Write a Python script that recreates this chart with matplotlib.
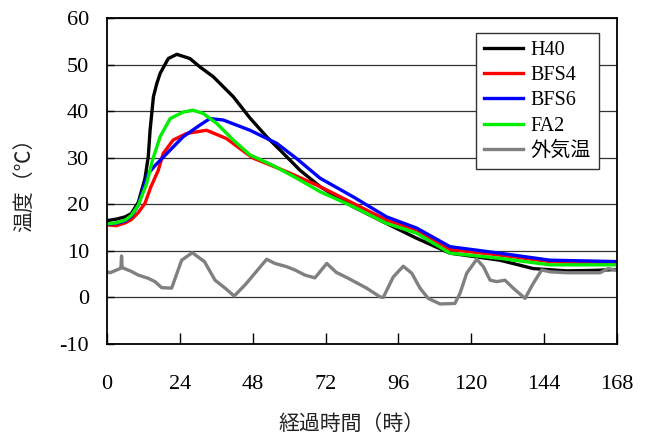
import matplotlib
matplotlib.use("Agg")
import matplotlib.pyplot as plt

plt.rcParams['font.family'] = ['Liberation Serif', 'Noto Sans CJK JP']
plt.rcParams['axes.unicode_minus'] = False

# Elapsed time (h) and temperature (°C) for each specimen
h40_t = [0, 3, 6, 8, 10.3, 12.5, 13.6, 14.2, 15.3, 16.4, 17.5, 20.2, 23, 27.3, 30.6, 35,
         41.6, 47, 52.6, 58, 63.6, 70.2, 81, 92, 102, 113, 129.4, 140.4, 151.4, 160, 168]
h40_v = [16.5, 16.8, 17.3, 18.0, 20.4, 25.5, 30.2, 35.9, 43.1, 45.9, 48.1, 51.3, 52.2, 51.3,
         49.5, 47.4, 43.1, 38.6, 34.5, 31.0, 27.3, 23.8, 19.5, 15.9, 12.7, 9.5, 8.0, 6.2, 5.7,
         5.8, 6.0]

bfs4_t = [0, 3, 6, 8, 10.3, 12.5, 14.5, 16.9, 18.5, 21.8, 26.2, 32.8, 39.4, 46, 48.2, 59.2,
          70.2, 81.1, 92.1, 102, 113, 129.4, 145.9, 168]
bfs4_v = [15.6, 15.4, 16.0, 16.7, 18.2, 20.2, 23.8, 27.3, 30.9, 33.8, 35.2, 35.9, 34.1, 30.9,
          29.9, 27.0, 23.8, 20.2, 16.6, 14.5, 10.3, 9.1, 7.7, 7.3]

bfs6_t = [0, 3, 6, 8, 10.3, 12.5, 13.6, 15.8, 19.7, 25.1, 30.6, 33.9, 38.3, 47.1, 55.9, 62.5,
          70.2, 81.1, 92.1, 102, 113, 129.4, 145.9, 168]
bfs6_v = [15.7, 15.9, 16.4, 17.4, 19.8, 24.5, 26.6, 28.3, 30.9, 34.5, 37.0, 38.4, 38.1, 35.9,
          33.1, 29.8, 25.6, 21.6, 17.3, 14.9, 10.9, 9.5, 8.0, 7.7]

fa2_t = [0, 3, 6, 8, 10.3, 13.1, 15, 17.5, 20.8, 25.1, 28.4, 31.7, 36.1, 41.6, 47.1, 54.8,
         62.5, 70.2, 81.1, 92.1, 102, 113, 129.4, 145.9, 168]
fa2_v = [15.8, 16.0, 16.6, 17.6, 19.8, 24.5, 29.5, 34.5, 38.4, 39.8, 40.2, 39.5, 37.4, 33.8,
         30.6, 28.3, 25.6, 22.7, 19.5, 15.9, 13.8, 9.5, 8.4, 7.0, 7.0]

air_t = [0, 1, 4.3, 4.6, 4.8, 5.0, 8, 10.3, 13.6, 15.8, 18, 21.3, 24.6, 28.1, 32.1, 35.6,
         38.9, 41.9, 45.5, 47.7, 52.6, 55.3, 59.2, 61.9, 65.2, 68.5, 72.4, 75.5, 79.5, 85.5,
         90, 91, 94.3, 97.6, 100.4, 103.1, 105.8, 109.7, 114.6, 116.3, 118.5, 121.8, 124,
         126.2, 128.4, 131.1, 133.8, 137.7, 140.4, 143.2, 145.9, 151.4, 162.4, 165.1, 168]
air_v = [5.5, 5.3, 6.2, 6.3, 8.9, 6.4, 5.6, 4.8, 4.1, 3.4, 2.1, 2.0, 8.0, 9.6, 7.7, 3.7,
         2.0, 0.3, 2.7, 4.4, 8.2, 7.3, 6.6, 5.9, 4.8, 4.2, 7.3, 5.4, 4.1, 2.0,
         0.1, 0.0, 4.4, 6.7, 5.2, 2.0, -0.2, -1.4, -1.3, 0.9, 5.2, 8.2, 6.6,
         3.7, 3.4, 3.7, 2.0, -0.2, 3.0, 5.9, 5.5, 5.3, 5.3, 6.2, 5.8]

series = [
    ("H40", h40_t, h40_v, "#000000"),
    ("BFS4", bfs4_t, bfs4_v, "#ff0000"),
    ("BFS6", bfs6_t, bfs6_v, "#0000ff"),
    ("FA2", fa2_t, fa2_v, "#00ee00"),
    ("外気温", air_t, air_v, "#808080"),
]

x_ticks = [0, 24, 48, 72, 96, 120, 144, 168]
y_ticks = [-10, 0, 10, 20, 30, 40, 50, 60]

fig = plt.figure(figsize=(6.46, 4.37), dpi=100)
ax = fig.add_axes([0.1656, 0.2128, 0.7895, 0.746])

for label, t, v, c in series:
    ax.plot(t, v, color=c, lw=2.4, label=label, solid_joinstyle='round')

ax.set_xlim(0, 168)
ax.set_ylim(-10, 60)
ax.set_xticks(x_ticks)
ax.set_yticks(y_ticks)
ax.yaxis.grid(True, color='#333333', lw=0.9)
ax.set_axisbelow(True)

ax.tick_params(axis='x', direction='in', length=8, width=1, pad=22, labelsize=16)
ax.tick_params(axis='y', direction='in', length=5, width=1, pad=13, labelsize=16)
for s in ax.spines.values():
    s.set_linewidth(1.3)

ax.set_xlabel("経過時間（時）", family=['Noto Sans CJK JP'], fontsize=15, color='#222222')
ax.set_ylabel("温度（℃）", family=['Noto Sans CJK JP'], fontsize=15, color='#222222')
ax.xaxis.set_label_coords(0.48, -0.212)
ax.yaxis.set_label_coords(-0.141, 0.503)

leg = ax.legend(loc='upper right', bbox_to_anchor=(0.965, 0.954), borderaxespad=0,
                fancybox=False, framealpha=1, edgecolor='#333333', fontsize=14.5,
                labelspacing=0.3, handlelength=1.9, handletextpad=0.4, borderpad=0.4)
leg.get_frame().set_linewidth(1.0)

fig.savefig("out.png", dpi=100)
